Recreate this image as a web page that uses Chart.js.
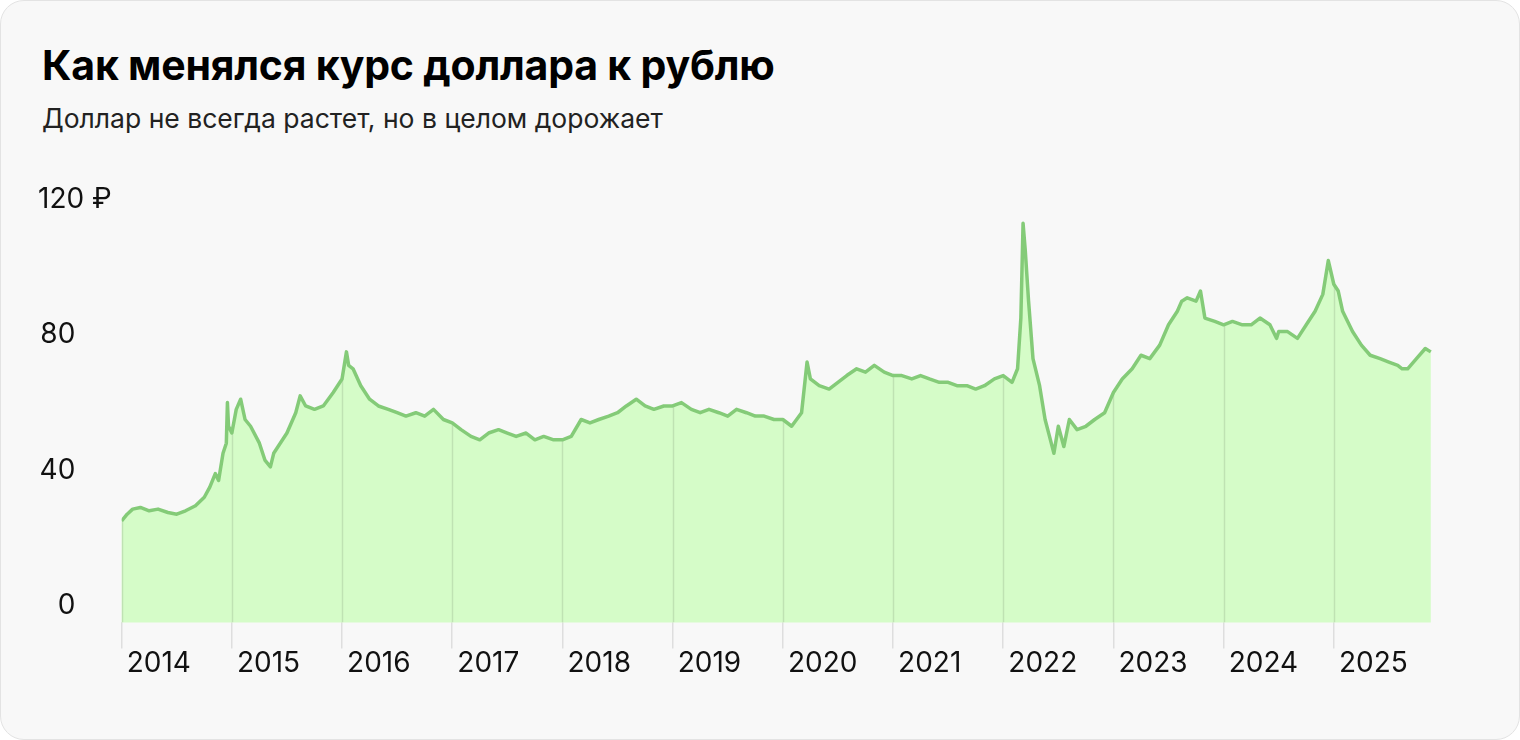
<!DOCTYPE html>
<html><head><meta charset="utf-8">
<script src="https://cdn.jsdelivr.net/npm/chart.js@4"></script>
<style>
html,body{margin:0;padding:0;background:#fff;}
#card{position:absolute;left:0;top:0;width:1518px;height:738px;background:#f8f8f8;border:1px solid #e3e3e3;border-radius:24px;font-family:Inter,"Noto Sans",sans-serif;color:#111;}
h1{position:absolute;left:41px;top:39px;margin:0;font-size:41px;font-weight:700;letter-spacing:-0.2px;color:#000;}
p{position:absolute;left:41px;top:101px;margin:0;font-size:26.5px;color:#222;}
#wrap{position:absolute;left:35px;top:180px;width:1425px;height:497px;}
</style></head><body>
<div id="card"><h1>Как менялся курс доллара к рублю</h1><p>Доллар не всегда растет, но в целом дорожает</p>
<div id="wrap"><canvas id="c"></canvas></div></div>
<script>
const dates = [2014.00,2014.05,2014.10,2014.17,2014.25,2014.33,2014.42,2014.50,2014.58,2014.67,2014.75,2014.80,2014.85,2014.88,2014.92,2014.95,2014.96,2014.97,2015.00,
2015.04,2015.08,2015.12,2015.17,2015.25,2015.30,2015.35,2015.38,2015.42,2015.50,2015.58,2015.62,2015.67,2015.75,2015.83,2015.92,
2016.00,2016.04,2016.06,2016.10,2016.17,2016.25,2016.33,2016.42,2016.50,2016.58,2016.67,2016.75,2016.83,2016.92,
2017.00,2017.08,2017.17,2017.25,2017.33,2017.42,2017.50,2017.58,2017.67,2017.75,2017.83,2017.92,
2018.00,2018.08,2018.17,2018.25,2018.33,2018.42,2018.50,2018.58,2018.67,2018.75,2018.83,2018.92,
2019.00,2019.08,2019.17,2019.25,2019.33,2019.42,2019.50,2019.58,2019.67,2019.75,2019.83,2019.92,
2020.00,2020.08,2020.17,2020.22,2020.25,2020.33,2020.42,2020.50,2020.58,2020.67,2020.75,2020.83,2020.92,
2021.00,2021.08,2021.17,2021.25,2021.33,2021.42,2021.50,2021.58,2021.67,2021.75,2021.83,2021.92,
2022.00,2022.08,2022.13,2022.16,2022.18,2022.20,2022.23,2022.27,2022.33,2022.38,2022.42,2022.46,2022.50,2022.55,2022.60,2022.67,2022.75,2022.83,2022.92,
2023.00,2023.08,2023.17,2023.25,2023.33,2023.42,2023.50,2023.58,2023.62,2023.67,2023.75,2023.79,2023.83,2023.92,
2024.00,2024.08,2024.17,2024.25,2024.33,2024.42,2024.48,2024.50,2024.58,2024.67,2024.75,2024.83,2024.90,2024.95,2025.00,
2025.04,2025.08,2025.17,2025.25,2025.33,2025.42,2025.50,2025.58,2025.62,2025.67,2025.75,2025.83,2025.88];
const rates = [30,32,33.5,34,33,33.5,32.5,32,33,34.5,37,40,44,42,50,53,65,58,56,
63,66,60,58,53,48,46,50,52,56,62,67,64,63,64,68,
72,80,76,75,70,66,64,63,62,61,62,61,63,60,
59,57,55,54,56,57,56,55,56,54,55,54,
54,55,60,59,60,61,62,64,66,64,63,64,
64,65,63,62,63,62,61,63,62,61,61,60,
60,58,62,77,72,70,69,71,73,75,74,76,74,
73,73,72,73,72,71,71,70,70,69,70,72,
73,71,75,90,118,110,95,78,70,60,55,50,58,52,60,57,58,60,62,
68,72,75,79,78,82,88,92,95,96,95,98,90,89,
88,89,88,88,90,88,84,86,86,84,88,92,97,107,100,
98,92,86,82,79,78,77,76,75,75,78,81,80];
const yTicks = [0,20,40,60,80,100,120];
const yearTicks = [2014,2015,2016,2017,2018,2019,2020,2021,2022,2023,2024,2025];

const gridUnder = {
  id:'gridUnder',
  beforeDatasetsDraw(chart){
    const ctx=chart.ctx, meta=chart.getDatasetMeta(0), xs=chart.scales.x, ys=chart.scales.y, pts=meta.data;
    const base=ys.getPixelForValue(0);
    ctx.save();
    ctx.fillStyle='#d5fcc8';
    ctx.beginPath();
    ctx.moveTo(pts[0].x,base);
    pts.forEach(p=>ctx.lineTo(p.x,p.y));
    ctx.lineTo(pts[pts.length-1].x,base);
    ctx.closePath();
    ctx.fill();
    ctx.clip();
    ctx.strokeStyle='rgba(0,0,0,0.1)';ctx.lineWidth=1.5;
    yearTicks.forEach(t=>{const x=Math.round(xs.getPixelForValue(t))+0.5;ctx.beginPath();ctx.moveTo(x,ys.top);ctx.lineTo(x,base);ctx.stroke();});
    ctx.restore();
  }
};

new Chart(document.getElementById('c'),{
  type:'line',
  data:{datasets:[{data:dates.map((d,i)=>({x:d,y:rates[i]})),borderColor:'#84cb78',borderWidth:3.5,pointRadius:0,fill:false,tension:0,borderJoinStyle:'round'}]},
  options:{
    responsive:true,maintainAspectRatio:false,animation:false,
    layout:{padding:{top:0,right:28,left:0,bottom:0}},
    plugins:{legend:{display:false},tooltip:{enabled:false}},
    scales:{
      x:{type:'linear',min:2014,max:2025.9,
        afterBuildTicks:s=>{s.ticks=yearTicks.map(v=>({value:v}));},
        grid:{drawOnChartArea:false,drawTicks:true,tickLength:26,color:'rgba(0,0,0,0.1)',lineWidth:1.5},
        border:{display:false},
        ticks:{align:'start',padding:-2,color:'#111',font:{family:'Inter',size:28},callback:v=>'\u2009'+v}},
      y:{min:0,max:120,
        afterBuildTicks:s=>{s.ticks=yTicks.map(v=>({value:v}));},
        grid:{display:false},border:{display:false},
        ticks:{padding:2,color:'#111',font:{family:'Inter',size:28,lineHeight:1.2},
          callback:v=>[v===120?'120 ₽':v+'\u2007\u2007','']}}
    }
  },
  plugins:[gridUnder]
});
</script></body></html>
